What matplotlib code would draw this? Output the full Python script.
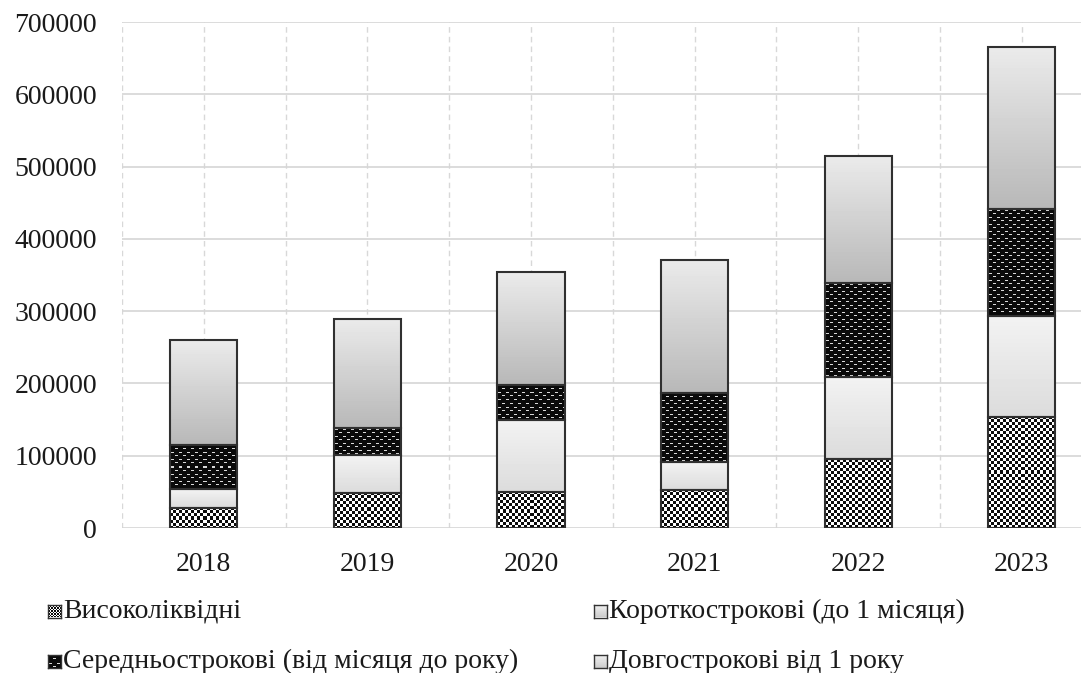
import numpy as np
import matplotlib
matplotlib.use("Agg")
import matplotlib.pyplot as plt

plt.rcParams['font.family'] = ['Liberation Serif', 'DejaVu Serif']

years = ['2018', '2019', '2020', '2021', '2022', '2023']
series_names = ['Високоліквідні',
                'Короткострокові (до 1 місяця)',
                'Середньострокові (від місяця до року)',
                'Довгострокові від 1 року']
high_liquid = [28000, 49000, 50000, 53000, 95000, 154000]
short_term = [26000, 52000, 99000, 38000, 114000, 139000]
mid_term = [61000, 37000, 49000, 96000, 130000, 148000]
long_term = [145000, 151000, 156000, 184000, 175000, 224000]
y_ticks = [0, 100000, 200000, 300000, 400000, 500000, 600000, 700000]

W, H = 1081, 673
SLOT = 163.6
fig = plt.figure(figsize=(W / 100, H / 100), dpi=100)
ax = fig.add_axes([122 / W, 1 - 528 / H, (W - 122) / W, (528 - 22) / H])
XLIM = (-0.5, -0.5 + (W - 122) / SLOT)
YLIM = (0, 700000)
ax.set_xlim(*XLIM)
ax.set_ylim(*YLIM)


def tile_pattern(tile, h, w):
    reps = (h // tile.shape[0] + 2, w // tile.shape[1] + 2)
    big = np.tile(tile, reps)
    return big[:h, :w]


# pattern tiles (grey levels)
checker = np.ones((6, 6))
checker[0:3, 0:3] = 0.05
checker[3:6, 3:6] = 0.05
dashes = np.full((7, 8), 0.04)
dashes[1, 1:4] = 0.85
dashes[4, 5:8] = 0.85


def gradient(h, top, bottom):
    col = np.linspace(top, bottom, max(h, 2))[:, None]
    return np.repeat(col, 4, axis=1)


fills = [
    lambda h, w: tile_pattern(checker, h, w),
    lambda h, w: gradient(h, 0.95, 0.86),
    lambda h, w: tile_pattern(dashes, h, w),
    lambda h, w: gradient(h, 0.92, 0.72),
]

series = [high_liquid, short_term, mid_term, long_term]
x = np.arange(len(years))
bottom = np.zeros(len(years))
for vals, fill in zip(series, fills):
    bars = ax.bar(x, vals, width=0.41, bottom=bottom, facecolor='none',
                  edgecolor='#303030', linewidth=1.5, zorder=3)
    for b in bars:
        x0, y0 = b.get_x(), b.get_y()
        bw, bh = b.get_width(), b.get_height()
        p0 = ax.transData.transform((x0, y0))
        p1 = ax.transData.transform((x0 + bw, y0 + bh))
        wpx = max(int(round(p1[0] - p0[0])), 2)
        hpx = max(int(round(p1[1] - p0[1])), 2)
        img = fill(hpx, wpx)
        im = ax.imshow(img, extent=(x0, x0 + bw, y0, y0 + bh), origin='upper',
                       aspect='auto', interpolation='nearest', cmap='gray',
                       vmin=0, vmax=1, zorder=2)
        im.set_clip_path(b)
    bottom += np.array(vals)

ax.set_xticks(x)
ax.set_xticklabels(years)
ax.set_xticks(np.arange(-0.5, XLIM[1], 1.0), minor=True)
ax.set_yticks(y_ticks)
ax.set_yticklabels([str(v) for v in y_ticks])
ax.set_xlim(*XLIM)
ax.set_ylim(*YLIM)
ax.tick_params(axis='both', which='both', length=0, labelsize=20, colors='#1a1a1a')
ax.tick_params(axis='y', pad=18)
ax.tick_params(axis='x', pad=17)
ax.grid(axis='y', color='#d6d6d6', linewidth=1.2, linestyle='-', zorder=0)
ax.grid(axis='x', which='both', color='#d8d8d8', linewidth=1.0,
        linestyle=(0, (4, 3)), zorder=0)
ax.set_axisbelow(True)
for s in ax.spines.values():
    s.set_visible(False)

# legend built from small pattern swatches
legend_pos = [(48, 611), (48, 661), (594, 611), (594, 661)]
order = [0, 2, 1, 3]
swatch_fills = [
    tile_pattern(checker[::2, ::2], 13, 13),
    gradient(13, 0.95, 0.80),
    tile_pattern(dashes, 13, 13),
    gradient(13, 0.95, 0.80),
]
for k, idx in enumerate(order):
    px, py = legend_pos[k]
    sax = fig.add_axes([px / W, 1 - (py + 6.5) / H, 13 / W, 13 / H])
    sax.imshow(swatch_fills[idx], cmap='gray', vmin=0, vmax=1,
               interpolation='nearest', aspect='auto')
    sax.set_xticks([])
    sax.set_yticks([])
    for s in sax.spines.values():
        s.set_color('#333333')
        s.set_linewidth(1.0)
    fig.text((px + 15) / W, 1 - py / H, series_names[idx], fontsize=20,
             va='center', ha='left', color='#1a1a1a')

fig.savefig('out.png', dpi=100)
